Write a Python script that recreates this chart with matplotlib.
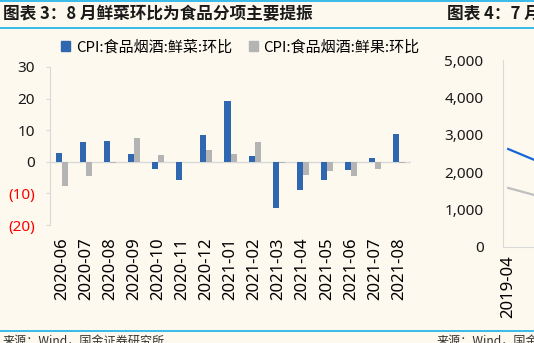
import numpy as np
import matplotlib
matplotlib.use('Agg')
import matplotlib.pyplot as plt
from matplotlib.lines import Line2D
from matplotlib.patches import Patch

plt.rcParams['font.family'] = ['Noto Sans', 'Noto Sans CJK SC', 'DejaVu Sans']

# 数据
meses = ['2020-06', '2020-07', '2020-08', '2020-09', '2020-10', '2020-11', '2020-12',
         '2021-01', '2021-02', '2021-03', '2021-04', '2021-05', '2021-06', '2021-07', '2021-08']
xian_cai = [2.9, 6.4, 6.6, 2.5, -2.3, -5.9, 8.6, 19.2, 1.9, -14.5, -9.0, -5.8, -2.5, 1.3, 8.7]
xian_guo = [-7.8, -4.6, -0.5, 7.4, 2.0, 0.0, 3.7, 2.4, 6.2, -0.5, -4.1, -2.8, -4.6, -2.3, -0.3]
y_ticks = [-20, -10, 0, 10, 20, 30]
y_labels = ['(20)', '(10)', '0', '10', '20', '30']

# 右侧被截断的图表 4
r_x = [0, 1, 2, 3]
r_azul = [2620, 2330, 2100, 1950]
r_gris = [1580, 1390, 1250, 1180]
r_ticks = [0, 1000, 2000, 3000, 4000, 5000]

fondo = '#FDF9EE'
azul = '#2F67B1'
gris = '#B4B4B4'
celeste = '#29B6EA'
cjk = ['Noto Sans CJK SC', 'DejaVu Sans']
W, H = 534, 343

def fx(px):
    return px / W

def fy(py):
    return 1 - py / H

fig = plt.figure(figsize=(W / 100, H / 100), dpi=100, facecolor=fondo)

# lineas azules del encabezado / pie
for yy in [1, 28, 330.5]:
    fig.add_artist(Line2D([0, 1], [fy(yy), fy(yy)], color=celeste, lw=1.3, transform=fig.transFigure))

fig.text(fx(3), fy(14), '图表 3：8 月鲜菜环比为食品分项主要提振', fontsize=12, fontweight='bold',
         color='#1a1a1a', va='center', ha='left', family=cjk)
fig.text(fx(447), fy(14), '图表 4：7 月', fontsize=12, fontweight='bold',
         color='#1a1a1a', va='center', ha='left', family=cjk)
fig.text(fx(3), fy(335), '来源：Wind，国金证券研究所', fontsize=8.7, color='#333333', va='top', family=cjk)
fig.text(fx(437), fy(335), '来源：Wind，国金证券研究所', fontsize=8.7, color='#333333', va='top', family=cjk)

# grafico de barras
ax = fig.add_axes([fx(50), fy(225), fx(411) - fx(50), fy(67) - fy(225)])
ax.set_facecolor('none')
x = np.arange(len(meses))
w = 0.25
ax.bar(x - w / 2, xian_cai, w, color=azul, zorder=2)
ax.bar(x + w / 2, xian_guo, w, color=gris, zorder=2)
ax.axhline(0, color='#D9D9D9', lw=1, zorder=1)
ax.set_xlim(-0.5, len(meses) - 0.5)
ax.set_ylim(-20, 30)
ax.set_yticks(y_ticks)
ax.set_yticklabels(y_labels)
for lab, v in zip(ax.get_yticklabels(), y_ticks):
    lab.set_color('red' if v < 0 else '#1a1a1a')
ax.set_xticks(x)
ax.set_xticklabels(meses, rotation=90)
ax.tick_params(axis='x', length=0, pad=9, labelsize=12)
ax.tick_params(axis='y', length=3, width=0.8, color='#D9D9D9', pad=8, labelsize=11)
for s in ['top', 'right', 'bottom']:
    ax.spines[s].set_visible(False)
ax.spines['left'].set_color('#D9D9D9')

handles = [Patch(color=azul, label='CPI:食品烟酒:鲜菜:环比'),
           Patch(color=gris, label='CPI:食品烟酒:鲜果:环比')]
fig.legend(handles=handles, loc='center left', bbox_to_anchor=(fx(61), fy(47)), ncol=2,
           frameon=False, prop={'family': cjk, 'size': 10.8}, handlelength=0.6, handleheight=0.6,
           handletextpad=0.4, columnspacing=1.1, borderpad=0, borderaxespad=0)

# grafico de lineas (cortado)
ax2 = fig.add_axes([fx(503), fy(247), 260 / W, fy(60) - fy(247)])
ax2.set_facecolor('none')
ax2.plot(r_x, r_azul, color='#1565D8', lw=1.6)
ax2.plot(r_x, r_gris, color='#BFBFBF', lw=1.6)
ax2.set_xlim(-0.2, 9.8)
ax2.set_ylim(0, 5000)
ax2.set_yticks(r_ticks)
ax2.set_yticklabels(['{:,}'.format(v) for v in r_ticks])
ax2.set_xticks([0])
ax2.set_xticklabels(['2019-04'], rotation=90)
ax2.tick_params(axis='x', length=0, pad=6, labelsize=12)
ax2.tick_params(axis='y', length=0, pad=14, labelsize=11, labelcolor='#1a1a1a')
for s in ['top', 'right']:
    ax2.spines[s].set_visible(False)
ax2.spines['left'].set_color('#D9D9D9')
ax2.spines['bottom'].set_color('#D9D9D9')

fig.savefig('out.png', dpi=100, facecolor=fondo)
